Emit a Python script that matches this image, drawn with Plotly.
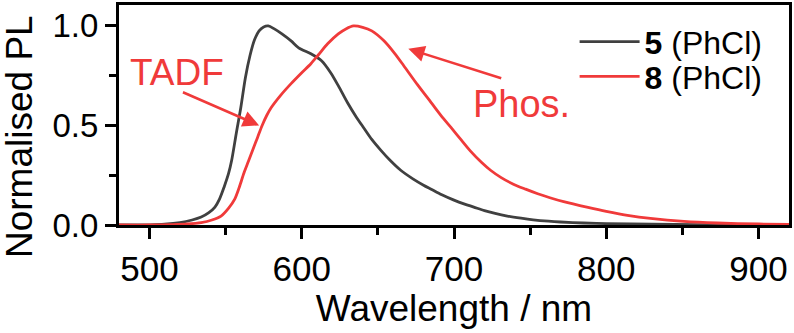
import plotly.graph_objects as go

# PL spectra
wl_5 = [480, 500, 510, 520, 528, 534, 539, 543, 546, 549, 552, 554, 557, 560, 563, 566, 569,
        572, 575, 578, 582, 587, 593, 598, 606, 613, 619, 624, 630, 636, 641, 646, 652, 658,
        665, 673, 680, 685, 692, 700, 707, 713, 720, 727, 735, 744, 752, 762, 770, 785, 800,
        830, 860, 890, 920]
pl_5 = [0.0, 0.001, 0.004, 0.012, 0.025, 0.04, 0.062, 0.09, 0.13, 0.19, 0.26, 0.325, 0.46,
        0.59, 0.74, 0.85, 0.93, 0.975, 0.995, 1.0, 0.985, 0.96, 0.925, 0.89, 0.86, 0.825,
        0.765, 0.70, 0.615, 0.54, 0.485, 0.43, 0.375, 0.325, 0.275, 0.232, 0.2, 0.18, 0.152,
        0.125, 0.105, 0.09, 0.072, 0.058, 0.045, 0.034, 0.026, 0.019, 0.015, 0.01, 0.007,
        0.004, 0.002, 0.001, 0.0]

wl_8 = [480, 500, 515, 525, 534, 541, 547, 552, 556, 559, 562, 565, 568, 571, 574, 577, 580,
        586, 593, 600, 606, 611, 617, 624, 629, 634, 640, 646, 654, 661, 667, 676, 685, 693,
        698, 705, 711, 718, 724, 731, 739, 747, 755, 763, 772, 788, 800, 815, 829, 851, 873,
        900, 920]
pl_8 = [0.0, 0.0, 0.002, 0.005, 0.012, 0.025, 0.045, 0.085, 0.13, 0.19, 0.26, 0.32, 0.38,
        0.44, 0.5, 0.55, 0.59, 0.65, 0.71, 0.765, 0.81, 0.855, 0.91, 0.96, 0.985, 1.0, 0.993,
        0.975, 0.925, 0.862, 0.8, 0.705, 0.615, 0.535, 0.49, 0.425, 0.37, 0.315, 0.275, 0.238,
        0.205, 0.18, 0.157, 0.137, 0.117, 0.088, 0.068, 0.047, 0.033, 0.018, 0.01, 0.005,
        0.003]

names = ["<b>5</b> (PhCl)", "<b>8</b> (PhCl)"]
colors = ["#404040", "#f03a3a"]

font = "Liberation Sans, Arial, sans-serif"

fig = go.Figure()
fig.add_trace(go.Scatter(x=wl_5, y=pl_5, mode="lines", name=names[0], legend="legend",
                         line=dict(color=colors[0], width=2.8, shape="spline", smoothing=0.8)))
fig.add_trace(go.Scatter(x=wl_8, y=pl_8, mode="lines", name=names[1], legend="legend2",
                         line=dict(color=colors[1], width=2.8, shape="spline", smoothing=0.8)))

axis_common = dict(showline=True, linecolor="black", linewidth=3, mirror=True,
                   ticks="outside", tickwidth=3, tickcolor="black", ticklen=11,
                   showgrid=False, zeroline=False, automargin=False,
                   minor=dict(ticks="outside", ticklen=7, tickwidth=3, tickcolor="black"))

fig.update_xaxes(range=[480, 920], tickvals=[500, 600, 700, 800, 900],
                 minor_tickvals=[550, 650, 750, 850],
                 tickfont=dict(size=35, color="black"),
                 title=dict(text="Wavelength / nm", font=dict(size=37, color="black"), standoff=4),
                 **axis_common)
fig.update_yaxes(range=[0, 1.105], tickvals=[0, 0.5, 1.0], ticktext=["0.0", "0.5", "1.0"],
                 minor_tickvals=[0.25, 0.75],
                 tickfont=dict(size=33, color="black"),
                 **axis_common)

# arrows + labels
fig.add_annotation(x=572, y=0.5, ax=521, ay=0.67, xref="x", yref="y", axref="x", ayref="y",
                   text="", showarrow=True, arrowhead=2, arrowsize=1.3, arrowwidth=2.5,
                   arrowcolor=colors[1])
fig.add_annotation(x=518, y=0.765, text="TADF", showarrow=False,
                   font=dict(size=37, color=colors[1]))
fig.add_annotation(x=670, y=0.885, ax=732, ay=0.735, xref="x", yref="y", axref="x", ayref="y",
                   text="", showarrow=True, arrowhead=2, arrowsize=1.3, arrowwidth=2.5,
                   arrowcolor=colors[1])
fig.add_annotation(x=744, y=0.61, text="Phos.", showarrow=False,
                   font=dict(size=38, color=colors[1]))

# y-axis title placed by hand
fig.add_annotation(xref="paper", yref="paper", x=0, y=0.4, xshift=-100, textangle=-90,
                   xanchor="center", yanchor="middle",
                   text="Normalised PL", showarrow=False, font=dict(size=37, color="black"))

leg = dict(xanchor="left", yanchor="middle", bgcolor="rgba(0,0,0,0)",
           font=dict(size=32, color="black"), itemwidth=60, borderwidth=0)

fig.update_layout(
    width=794, height=333,
    margin=dict(l=119, r=5, t=5, b=108),
    plot_bgcolor="white", paper_bgcolor="white",
    font=dict(family=font, color="black"),
    legend=dict(x=0.68, y=(225 - 41) / 221, **leg),
    legend2=dict(x=0.68, y=(225 - 76) / 221, **leg),
    showlegend=True,
)

# drop the default 8px page margin so the figure sits at the window corner
fig.write_html("out.html", config={"displayModeBar": False},
               post_script="document.body.style.margin='0';")
